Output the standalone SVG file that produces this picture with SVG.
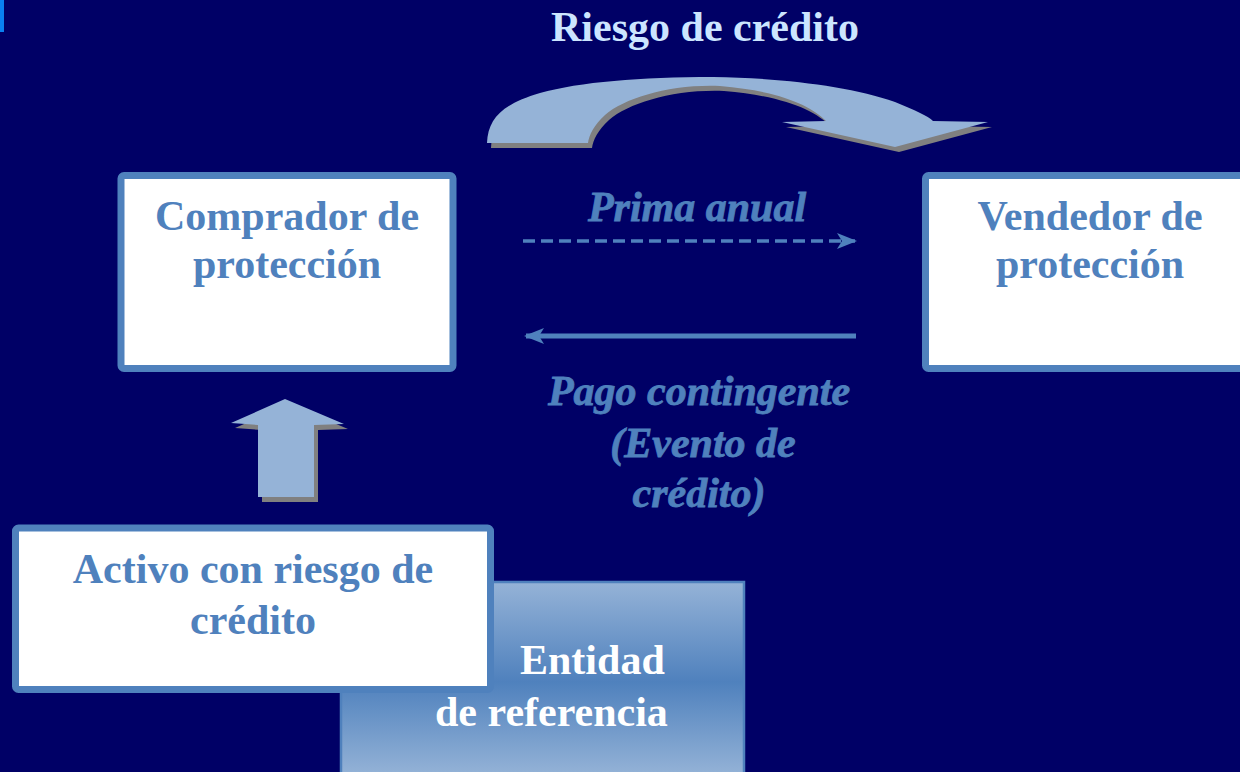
<svg xmlns="http://www.w3.org/2000/svg" width="1240" height="772" viewBox="0 0 1240 772">
<defs>
<style>
.box{fill:#FFFFFF;stroke:#4F81BD;stroke-width:7}
.bt{font-family:"Liberation Serif","Times New Roman",serif;font-weight:bold;font-size:42px;fill:#4F81BD;text-anchor:middle}
.it{font-family:"Liberation Serif","Times New Roman",serif;font-weight:bold;font-style:italic;font-size:42px;fill:#4F81BD;stroke:#4F81BD;stroke-width:0.8;text-anchor:middle}
.wt{font-family:"Liberation Serif","Times New Roman",serif;font-weight:bold;font-size:42px;fill:#FFFFFF}
.big{fill:#95B3D7}
.shadow{fill:#808080}
</style>
<linearGradient id="g" x1="0" y1="0" x2="0" y2="1">
<stop offset="0" stop-color="#95B3D7"/>
<stop offset="0.5" stop-color="#4F81BD"/>
<stop offset="0.97" stop-color="#95B3D7"/>
</linearGradient>
<marker id="stealth" viewBox="0 0 20 20" refX="18" refY="10" markerWidth="20" markerHeight="20" markerUnits="userSpaceOnUse" orient="auto">
<path d="M0,2 L20,10 L0,18 L5,10 Z" fill="#4F81BD"/>
</marker>
<path id="curve" d="M487,143 C488,118 503,104 540,93 C580,82 640,77 713,77 C780,78 850,86 895,102 C915,110 928,116 933,121 L988,122 L895,147 L782,122 L826,121 C812,106 780,91 720,86 C670,84 625,98 605,115 C594,125 589,135 588,143 Z"/>
<path id="up" d="M285,399 L344,424 L314,425 L314,497 L258,497 L258,425 L231,423 Z"/>
</defs>
<rect x="0" y="0" width="1240" height="772" fill="#000066"/>
<rect x="0" y="0" width="4" height="32" fill="#0A80F0"/>

<text x="705" y="41" font-family="Liberation Serif, serif" font-weight="bold" font-size="42" fill="#CCE5FF" text-anchor="middle">Riesgo de crédito</text>

<g id="connectors">
<g id="credit-risk-arrow">
<use href="#curve" class="shadow" transform="translate(4,5)"/>
<use href="#curve" class="big"/>
</g>
<g id="asset-arrow">
<use href="#up" class="shadow" transform="translate(4,5)"/>
<use href="#up" class="big"/>
</g>
<line x1="523" y1="241" x2="855" y2="241" stroke="#4F81BD" stroke-width="3.5" stroke-dasharray="12,6" marker-end="url(#stealth)"/>
<line x1="856" y1="336" x2="526" y2="336" stroke="#4F81BD" stroke-width="5" marker-end="url(#stealth)"/>
<text class="it" x="697" y="221">Prima anual</text>
<text class="it" x="699" y="405">Pago contingente</text>
<text class="it" x="703" y="457">(Evento de</text>
<text class="it" x="699" y="507">crédito)</text>
</g>

<g id="comprador">
<rect class="box" x="121" y="175.5" width="332" height="193" rx="3"/>
<text class="bt" x="287" y="230">Comprador de</text>
<text class="bt" x="287" y="278">protección</text>
</g>

<g id="vendedor">
<rect class="box" x="925.5" y="175.5" width="332" height="193" rx="3"/>
<text class="bt" x="1090" y="230">Vendedor de</text>
<text class="bt" x="1090" y="278">protección</text>
</g>

<g id="entidad">
<rect x="341" y="582" width="403" height="200" fill="url(#g)" stroke="#4F81BD" stroke-width="2.5"/>
<text class="wt" x="520" y="674">Entidad</text>
<text class="wt" x="435" y="726">de referencia</text>
</g>

<g id="activo">
<rect class="box" x="15.5" y="528" width="475" height="161.5" rx="3"/>
<text class="bt" x="253" y="583">Activo con riesgo de</text>
<text class="bt" x="253" y="634">crédito</text>
</g>
</svg>
